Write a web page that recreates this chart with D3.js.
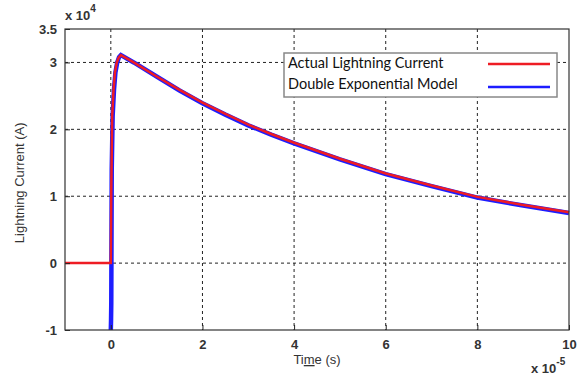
<!DOCTYPE html>
<html>
<head>
<meta charset="utf-8">
<script src="https://d3js.org/d3.v7.min.js"></script>
<style>
  body { margin: 0; background: #fff; }
</style>
</head>
<body>
<div id="my_dataviz"></div>
<script>
// data (time in 1e-5 s, current in 1e4 A)
var xTicks = [0, 2, 4, 6, 8, 10]
var yTicks = [-1, 0, 1, 2, 3, 3.5]
var xGrid = [0, 2, 4, 6, 8]
var yGrid = [0, 1, 2, 3]

var actualT = [-1, 0, 0.01, 0.03, 0.06, 0.09, 0.13, 0.17, 0.22, 0.5, 1, 1.5, 2, 2.5, 3, 3.5, 4, 5, 6, 7, 8, 9, 10]
var actualI = [0, 0, 1.1, 2.2, 2.6, 2.85, 3.0, 3.07, 3.11, 3.0, 2.79, 2.59, 2.4, 2.23, 2.07, 1.93, 1.8, 1.56, 1.34, 1.16, 0.99, 0.87, 0.76]

var modelT = [0, 0.005, 0.01, 0.02, 0.04, 0.07, 0.1, 0.14, 0.18, 0.22, 0.5, 1, 1.5, 2, 2.5, 3, 3.5, 4, 5, 6, 7, 8, 9, 10]
var modelI = [-1, -0.85, -0.6, 1.4, 2.2, 2.6, 2.85, 3.0, 3.08, 3.11, 3.0, 2.79, 2.58, 2.39, 2.22, 2.06, 1.92, 1.79, 1.55, 1.33, 1.15, 0.98, 0.86, 0.75]

var legendNames = ["Actual Lightning Current", "Double Exponential Model"]
var legendColors = ["#ee1c24", "#1d1dff"]

// set the dimensions and margins of the graph
var margin = {top: 29, right: 9, bottom: 46, left: 65},
    width = 578 - margin.left - margin.right,
    height = 376 - margin.top - margin.bottom;

var svg = d3.select("#my_dataviz")
  .append("svg")
    .attr("width", width + margin.left + margin.right)
    .attr("height", height + margin.top + margin.bottom)
  .append("g")
    .attr("transform", "translate(" + margin.left + "," + margin.top + ")");

var x = d3.scaleLinear().domain([-1, 10]).range([0, width])
var y = d3.scaleLinear().domain([-1, 3.5]).range([height, 0])

// grid
svg.selectAll(".gx").data(xGrid).enter().append("line")
  .attr("x1", d => x(d)).attr("x2", d => x(d))
  .attr("y1", 0).attr("y2", height)
  .attr("stroke", "#222").attr("stroke-width", 1)
  .attr("stroke-dasharray", "3,3")

svg.selectAll(".gy").data(yGrid).enter().append("line")
  .attr("y1", d => y(d)).attr("y2", d => y(d))
  .attr("x1", 0).attr("x2", width)
  .attr("stroke", "#222").attr("stroke-width", 1)
  .attr("stroke-dasharray", "3,3")

// curves
var line = d3.line()
  .x(d => x(d[0]))
  .y(d => y(d[1]))

svg.append("path")
  .datum(d3.zip(modelT, modelI))
  .attr("d", line)
  .attr("fill", "none")
  .attr("stroke", legendColors[1])
  .attr("stroke-width", 4.5)

svg.append("path")
  .datum(d3.zip(actualT, actualI))
  .attr("d", line)
  .attr("fill", "none")
  .attr("stroke", legendColors[0])
  .attr("stroke-width", 2.5)

// axes (ticks inside, MATLAB style)
var tickFont = "Liberation Sans, Arial, sans-serif"
var plain = d => String(d)   // keeps the hyphen minus, like "-1"

svg.append("g")
  .attr("transform", "translate(0," + height + ")")
  .call(d3.axisBottom(x).tickValues(xTicks).tickSize(-5).tickPadding(10).tickFormat(plain))
  .call(g => g.select(".domain").remove())
  .selectAll("text")
    .attr("font-family", tickFont).attr("font-size", "13px")
    .attr("font-weight", "bold").attr("fill", "#333")

svg.append("g")
  .call(d3.axisLeft(y).tickValues(yTicks).tickSize(-5).tickPadding(8).tickFormat(plain))
  .call(g => g.select(".domain").remove())
  .selectAll("text")
    .attr("font-family", tickFont).attr("font-size", "13px")
    .attr("font-weight", "bold").attr("fill", "#333")

svg.selectAll(".tick line").attr("stroke", "#222")

// box
svg.append("rect")
  .attr("x", 0).attr("y", 0)
  .attr("width", width).attr("height", height)
  .attr("fill", "none")
  .attr("stroke", "#333")
  .attr("stroke-width", 1.2)

// exponent labels
var e1 = svg.append("text")
  .attr("x", 0).attr("y", -9)
  .attr("font-family", tickFont).attr("font-size", "13px")
  .attr("font-weight", "bold").attr("fill", "#333")
e1.append("tspan").text("x 10")
e1.append("tspan").attr("dy", -8).attr("font-size", "10px").text("4")

var e2 = svg.append("text")
  .attr("x", width - 38).attr("y", height + 43)
  .attr("font-family", tickFont).attr("font-size", "13px")
  .attr("font-weight", "bold").attr("fill", "#333")
e2.append("tspan").text("x 10")
e2.append("tspan").attr("dy", -8).attr("font-size", "10px").text("-5")

// axis labels
var xl = svg.append("text")
  .attr("x", x(4.5)).attr("y", height + 34)
  .attr("text-anchor", "middle")
  .attr("font-family", tickFont).attr("font-size", "13px")
  .attr("fill", "#333")
xl.append("tspan").text("Ti")
xl.append("tspan").attr("text-decoration", "underline").text("m")
xl.append("tspan").text("e (s)")

svg.append("text")
  .attr("transform", "translate(-41," + y(1.2) + ") rotate(-90)")
  .attr("text-anchor", "middle")
  .attr("font-family", tickFont).attr("font-size", "13px")
  .attr("fill", "#333")
  .text("Lightning Current (A)")

// legend
var lg = svg.append("g")
  .attr("transform", "translate(" + (284 - margin.left) + "," + (53 - margin.top) + ")")

lg.append("rect")
  .attr("width", 273).attr("height", 44)
  .attr("fill", "#fff")
  .attr("stroke", "#888")
  .attr("stroke-width", 1.5)

lg.selectAll(".lt").data(legendNames).enter().append("text")
  .attr("x", 4)
  .attr("y", (d, i) => 15 + i * 21)
  .attr("font-family", "Lato, Open Sans, sans-serif")
  .attr("font-size", "14.5px")
  .attr("fill", "#111")
  .text(d => d)

lg.selectAll(".ll").data(legendColors).enter().append("line")
  .attr("x1", 204).attr("x2", 266)
  .attr("y1", (d, i) => 11 + i * 23).attr("y2", (d, i) => 11 + i * 23)
  .attr("stroke", d => d)
  .attr("stroke-width", 2.5)
</script>
</body>
</html>
